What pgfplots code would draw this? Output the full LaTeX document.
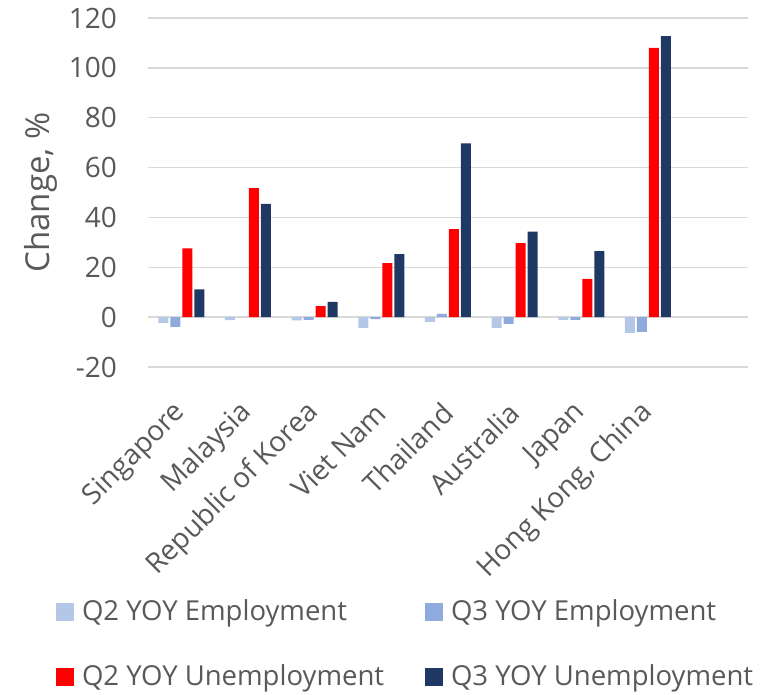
\documentclass[border=0pt]{standalone}
\usepackage{fontspec}
\setmainfont{Open Sans}
\usepackage{pgfplots}
\pgfplotsset{compat=1.18}
\usepackage{pgfplotstable}
\definecolor{txt}{HTML}{595959}
\definecolor{gridc}{HTML}{D9D9D9}
\definecolor{cA}{HTML}{B4C7E7}
\definecolor{cB}{HTML}{8FAADC}
\definecolor{cC}{HTML}{FF0000}
\definecolor{cD}{HTML}{203864}
\pgfplotstableread{
x q2e q3e q2u q3u
0 -2.3 -3.9 27.6 11.1
1 -1.2 0.0 51.8 45.4
2 -1.3 -1.1 4.4 6.1
3 -4.3 -0.8 21.7 25.3
4 -1.9 1.3 35.3 69.7
5 -4.3 -2.7 29.7 34.3
6 -1.1 -1.1 15.4 26.5
7 -6.3 -5.9 108.0 112.7
}\datatable
\begin{document}
\fontsize{27.5}{33}\selectfont
\begin{tikzpicture}
\path[use as bounding box] (-148pt,-328pt) rectangle (636pt,367pt);
\begin{axis}[
  at={(0pt,0pt)}, anchor=south west,
  scale only axis, width=600pt, height=349pt,
  ybar=2pt, bar width=10pt,
  xmin=-0.5, xmax=8.5, ymin=-20, ymax=120,
  ytick={-20,0,...,120},
  xtick={0,...,7},
  xticklabels={Singapore,Malaysia,Republic of Korea,Viet Nam,Thailand,Australia,Japan,{Hong Kong, China}},
  ymajorgrids, grid style={gridc, line width=1.5pt},
  axis line style={draw=none}, tick style={draw=none},
  /pgf/number format/assume math mode=true,
  ticklabel style={font=\fontsize{28}{33}\selectfont, text=txt},
  yticklabel style={anchor=east, inner sep=0pt, xshift=-31pt},
  xticklabel style={yshift=-37pt, rotate=45, anchor=east, inner sep=0pt},
  ylabel={Change, \%},
  ylabel style={at={(axis description cs:-0.178,0.5)}, anchor=center, font=\fontsize{33}{38}\selectfont, text=txt},
  legend columns=2,
  legend image code/.code={\fill[#1] (0pt,-9pt) rectangle (18pt,9pt);},
  legend style={draw=none, fill=none, inner sep=0pt, outer sep=0pt,
    at={(axis description cs:-0.1533,-0.795)}, anchor=west,
    font=\fontsize{27.5}{33}\selectfont, text=txt,
    /tikz/column 1/.style={column sep=8pt},
    /tikz/column 2/.style={column sep=41pt},
    /tikz/column 3/.style={column sep=8pt},
    row sep=40pt,
    nodes={inner sep=0pt, anchor=west}},
  legend cell align=left,
]
\addplot[draw=none, fill=cA] table[x=x, y=q2e] {\datatable};
\addplot[draw=none, fill=cB] table[x=x, y=q3e] {\datatable};
\addplot[draw=none, fill=cC] table[x=x, y=q2u] {\datatable};
\addplot[draw=none, fill=cD] table[x=x, y=q3u] {\datatable};
\legend{Q2 YOY Employment, Q3 YOY Employment, Q2 YOY Unemployment, Q3 YOY Unemployment}
\end{axis}
\end{tikzpicture}
\end{document}
